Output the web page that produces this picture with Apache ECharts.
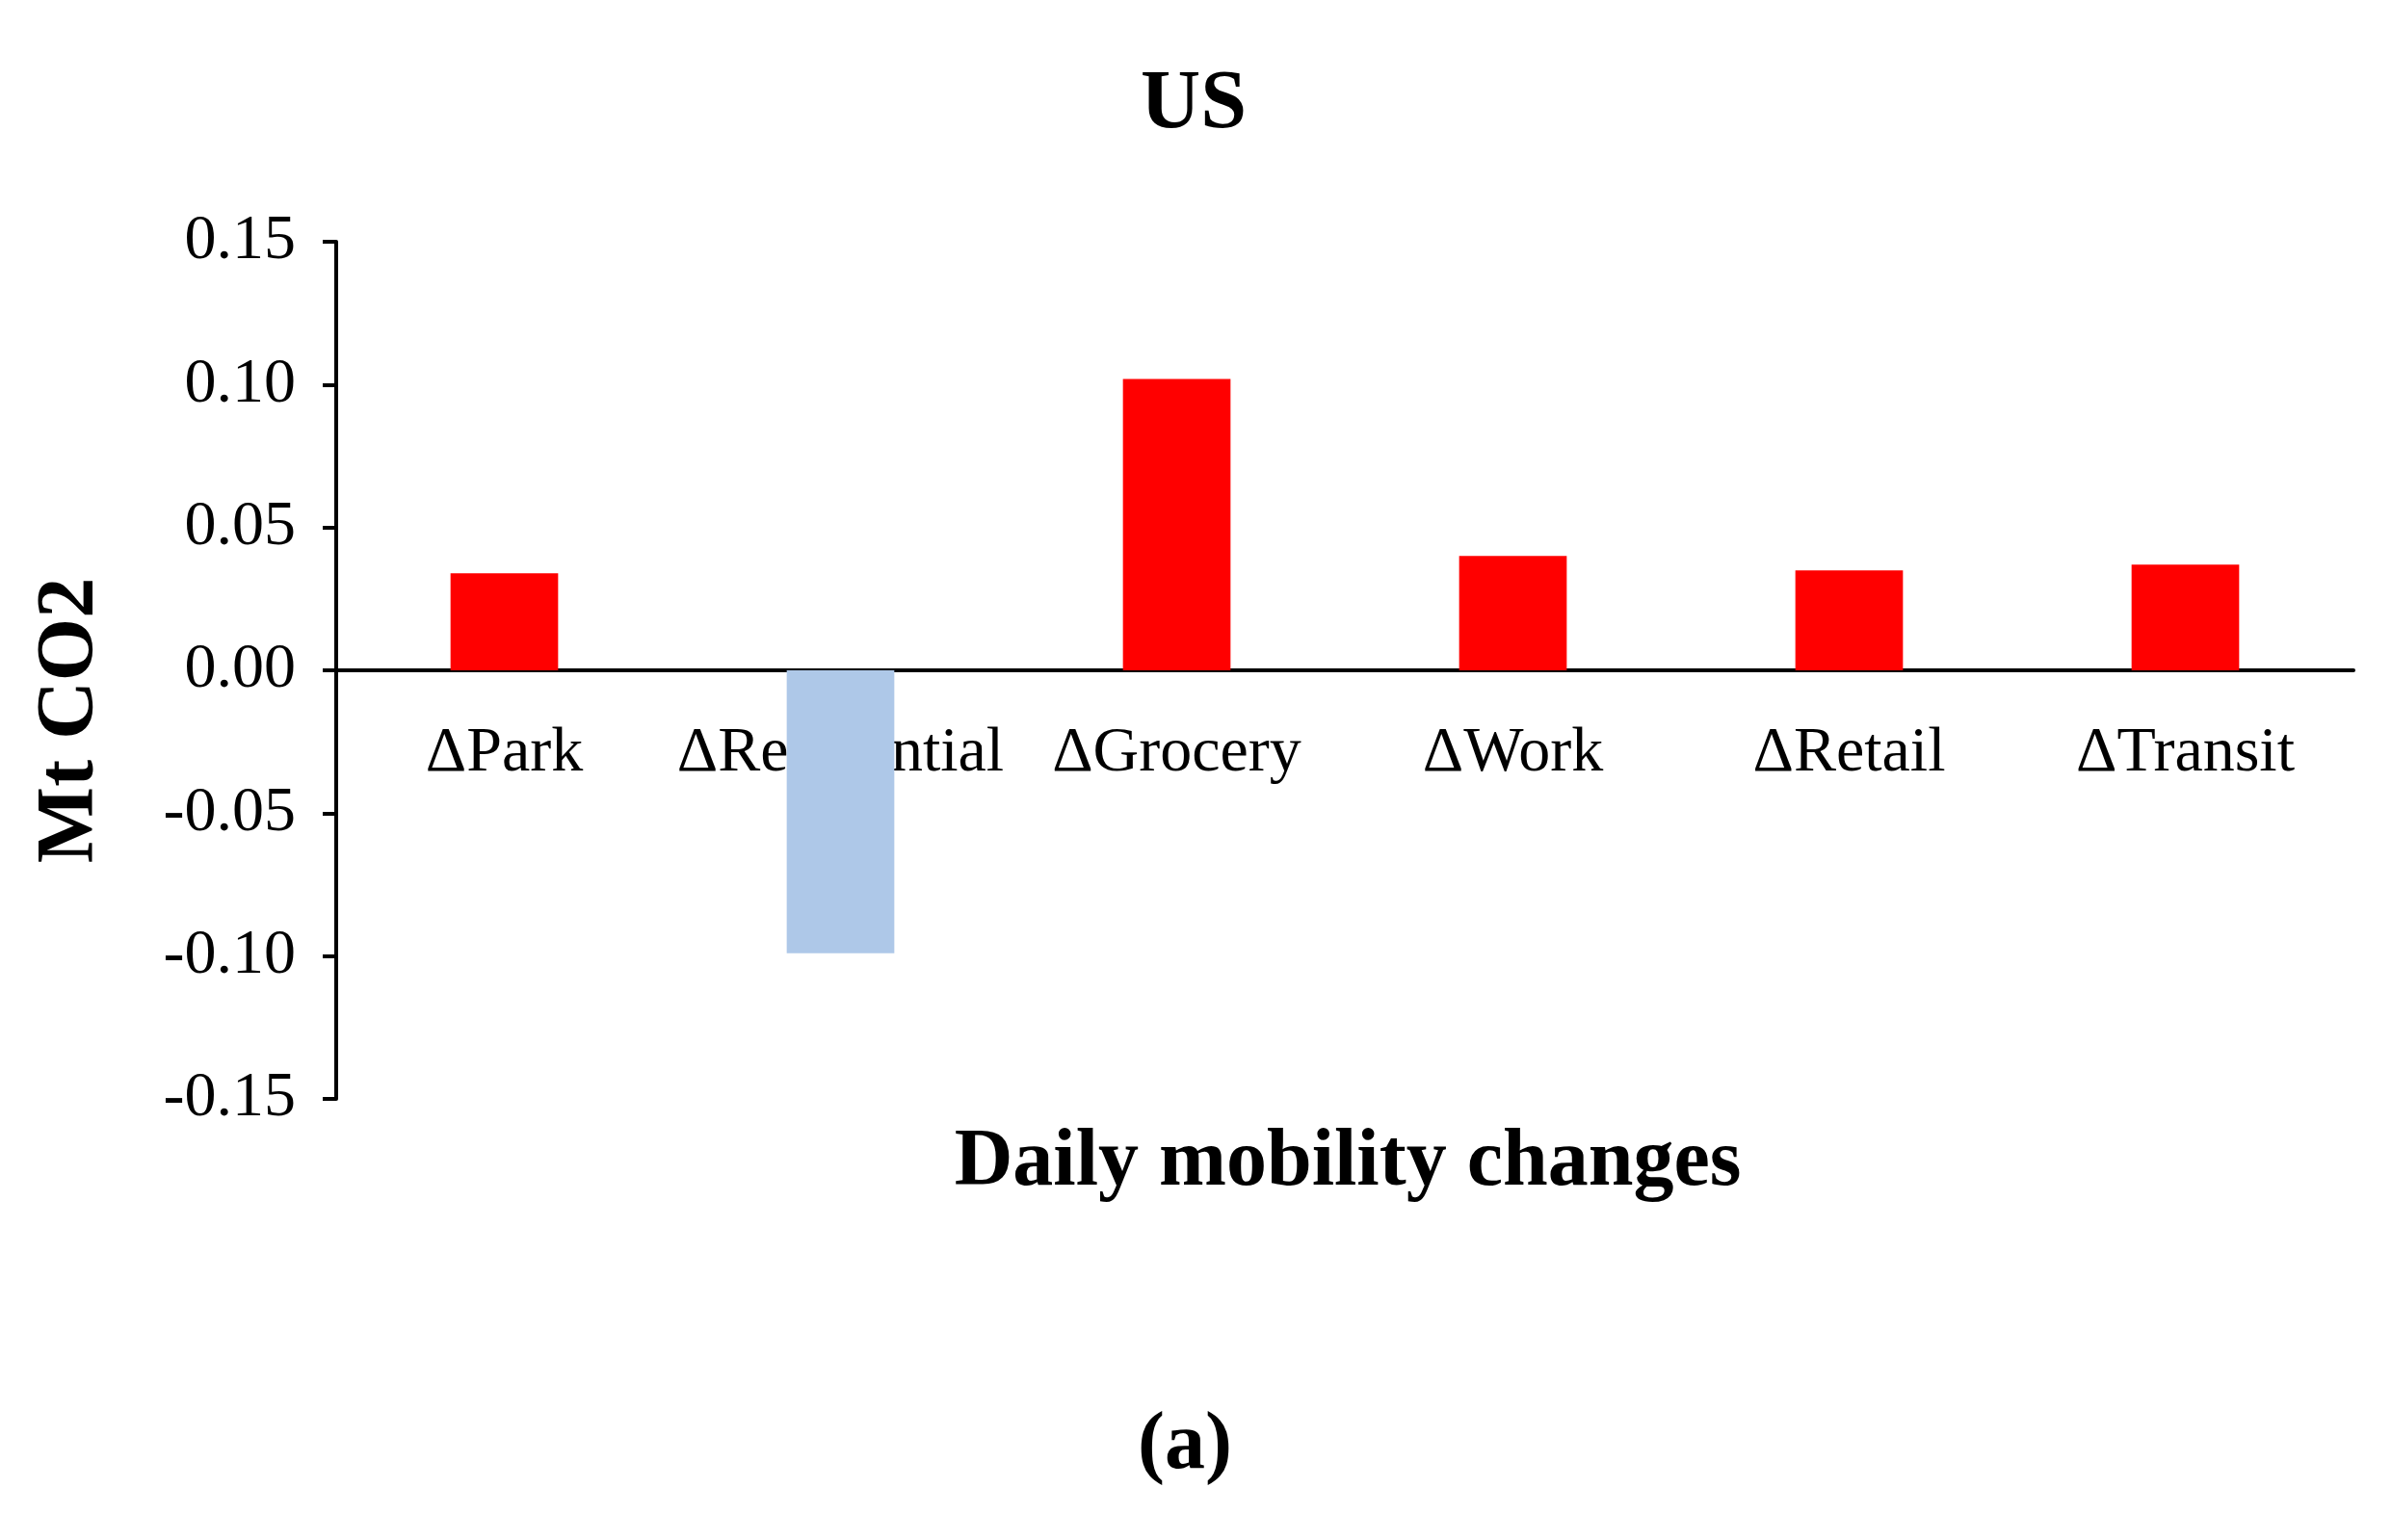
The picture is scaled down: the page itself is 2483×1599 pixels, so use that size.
<!DOCTYPE html>
<html>
<head>
<meta charset="utf-8">
<script src="https://cdn.jsdelivr.net/npm/echarts@6/dist/echarts.min.js"></script>
<style>html,body{margin:0;background:#fff}#app{width:2483px;height:1599px}</style>
</head>
<body>
<div id="app"></div>
<script>
var categories = ['ΔPark', 'ΔResidential', 'ΔGrocery', 'ΔWork', 'ΔRetail', 'ΔTransit'];
var values = [0.034, -0.099, 0.102, 0.040, 0.035, 0.037];
var yTicks = { min: -0.15, max: 0.15, interval: 0.05 };

var font = 'Liberation Serif';
var chart = echarts.init(document.getElementById('app'));
chart.setOption({
  animation: false,
  title: {
    text: 'US', left: 1234, top: 62, textAlign: 'center',
    textStyle: { fontFamily: font, fontSize: 86, fontWeight: 'bold', color: '#000' }
  },
  grid: { left: 349, right: 40, top: 251, bottom: 1599 - 1141, containLabel: false },
  xAxis: {
    type: 'category', data: categories,
    axisLine: { onZero: true, lineStyle: { color: '#000', width: 4 } },
    axisTick: { show: false },
    axisLabel: { fontFamily: font, fontSize: 66, color: '#000', margin: -391, interval: 0 }
  },
  yAxis: {
    type: 'value', min: yTicks.min, max: yTicks.max, interval: yTicks.interval,
    splitLine: { show: false },
    axisLine: { show: true, lineStyle: { color: '#000', width: 4 } },
    axisTick: { show: true, length: 14, lineStyle: { color: '#000', width: 4 } },
    axisLabel: { fontFamily: font, fontSize: 66, color: '#000', margin: 42,
      formatter: function (v) { return v.toFixed(2); } }
  },
  series: [{
    type: 'bar', barWidth: '32%',
    data: values.map(function (v) {
      return { value: v, itemStyle: { color: v < 0 ? '#AEC8E8' : '#FF0000' } };
    })
  }],
  graphic: [
    { type: 'text', x: 74, y: 748, rotation: Math.PI / 2,
      style: { text: 'Mt CO2', font: 'bold 84px "Liberation Serif"', fill: '#000', align: 'center', verticalAlign: 'middle' } },
    { type: 'text', x: 1399, y: 1208,
      style: { text: 'Daily mobility changes', font: 'bold 84px "Liberation Serif"', fill: '#000', align: 'center', verticalAlign: 'middle' } },
    { type: 'text', x: 1230, y: 1502,
      style: { text: '(a)', font: 'bold 84px "Liberation Serif"', fill: '#000', align: 'center', verticalAlign: 'middle' } }
  ]
});
</script>
</body>
</html>
